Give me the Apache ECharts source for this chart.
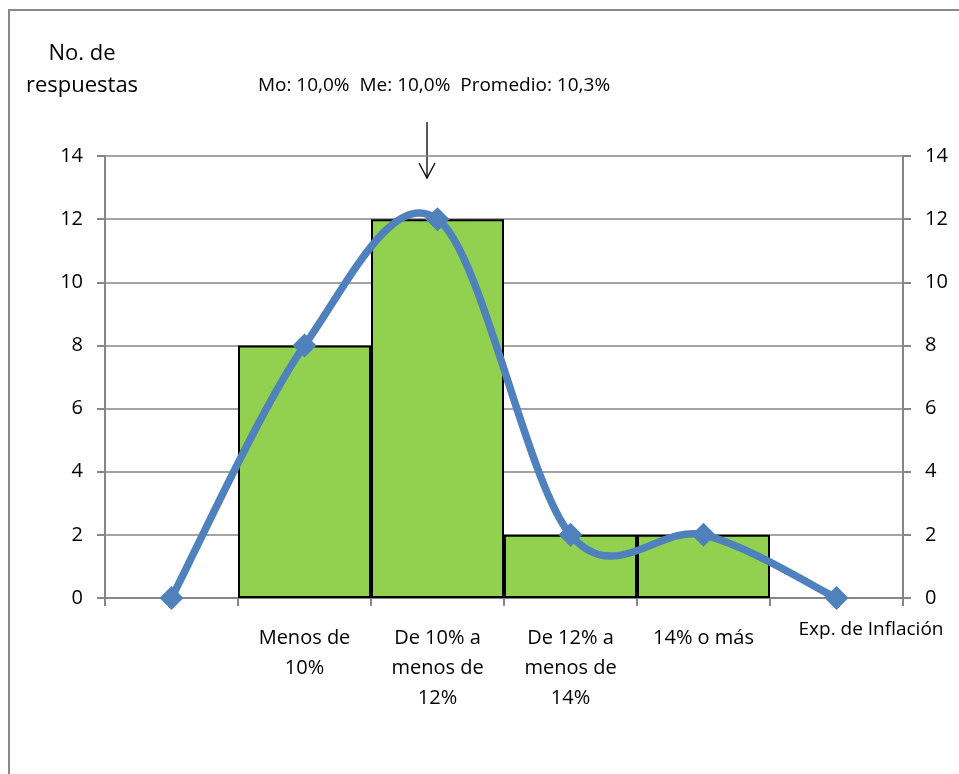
<!DOCTYPE html>
<html>
<head>
<meta charset="utf-8">
<script src="https://cdn.jsdelivr.net/npm/echarts@6/dist/echarts.min.js"></script>
<style>html,body{margin:0;padding:0;background:#fff}#c{width:959px;height:774px}</style>
</head>
<body>
<div id="c"></div>
<script>
const categories = ['', 'Menos de\n10%', 'De 10% a\nmenos de\n12%', 'De 12% a\nmenos de\n14%', '14% o más', ''];
const barValues = ['-', 8, 12, 2, 2, '-'];
const lineValues = [0, 8, 12, 2, 2, 0];
const yTicks = { min: 0, max: 14, interval: 2 };
const yTitle = 'No. de\nrespuestas';
const xTitle = 'Exp. de Inflación';
const annotation = 'Mo: 10,0%  Me: 10,0%  Promedio: 10,3%';

const FONT = '"Open Sans", sans-serif';
const LINE_COLOR = '#4f81bd';
const chart = echarts.init(document.getElementById('c'));
const yAxisBase = {
  type: 'value', min: yTicks.min, max: yTicks.max, interval: yTicks.interval,
  axisLine: { show: true, lineStyle: { color: '#868686', width: 2 } },
  axisTick: { show: true, length: 8, lineStyle: { color: '#868686', width: 2 } },
  axisLabel: { color: '#000', fontSize: 20, fontFamily: FONT, margin: 22 },
};

// Smooth curve through the data points (cardinal spline, like the spreadsheet's smoothed line)
function renderCurve(params, api) {
  if (params.dataIndex !== 0) return null;
  const pts = lineValues.map((v, i) => api.coord([i, v]));
  const n = pts.length;
  let d = 'M' + pts[0][0] + ' ' + pts[0][1];
  for (let i = 0; i < n - 1; i++) {
    const p0 = pts[Math.max(i - 1, 0)], p1 = pts[i], p2 = pts[i + 1], p3 = pts[Math.min(i + 2, n - 1)];
    const c1 = [p1[0] + (p2[0] - p0[0]) / 6, p1[1] + (p2[1] - p0[1]) / 6];
    const c2 = [p2[0] - (p3[0] - p1[0]) / 6, p2[1] - (p3[1] - p1[1]) / 6];
    d += ' C' + c1[0] + ' ' + c1[1] + ' ' + c2[0] + ' ' + c2[1] + ' ' + p2[0] + ' ' + p2[1];
  }
  return {
    type: 'path',
    shape: { pathData: d },
    style: { stroke: LINE_COLOR, lineWidth: 7.5, fill: 'none', lineJoin: 'round', lineCap: 'round' },
  };
}

chart.setOption({
  animation: false,
  grid: { left: 105, right: 56, top: 156, bottom: 176 },
  xAxis: {
    type: 'category', data: categories, boundaryGap: true,
    name: xTitle, nameLocation: 'end', nameGap: -32,
    nameTextStyle: { color: '#000', fontSize: 19, fontFamily: FONT, align: 'center', verticalAlign: 'top', padding: [22, 0, 0, 0] },
    axisLine: { lineStyle: { color: '#868686', width: 2 } },
    axisTick: { show: true, length: 8, alignWithLabel: false, lineStyle: { color: '#868686', width: 2 } },
    axisLabel: { interval: 0, color: '#000', fontSize: 20, fontFamily: FONT, lineHeight: 30, margin: 25 },
  },
  yAxis: [
    Object.assign({}, yAxisBase, { position: 'left', splitLine: { show: true, lineStyle: { color: '#868686', width: 1.5 } } }),
    Object.assign({}, yAxisBase, { position: 'right', splitLine: { show: false } }),
  ],
  series: [
    {
      type: 'bar', data: barValues, barWidth: '100%', barGap: '-100%', barCategoryGap: 0,
      itemStyle: { color: '#92d050', borderColor: '#000', borderWidth: 2 },
      z: 2,
    },
    {
      type: 'custom', data: lineValues.map((v, i) => [i, v]), encode: { x: 0, y: 1 },
      renderItem: renderCurve, z: 3, silent: true,
    },
    {
      type: 'scatter', data: lineValues,
      symbol: 'diamond', symbolSize: 24,
      itemStyle: { color: LINE_COLOR, opacity: 1 },
      z: 4,
    },
  ],
  graphic: [
    { type: 'rect', shape: { x: 9, y: 10, width: 1000, height: 1000 }, style: { fill: 'none', stroke: '#898989', lineWidth: 2 }, z: -1 },
    { type: 'text', x: 82, y: 38, style: { text: yTitle, fill: '#000', font: '22px ' + FONT, align: 'center', lineHeight: 32 } },
    { type: 'text', x: 434, y: 86, style: { text: annotation, fill: '#000', font: '19px ' + FONT, align: 'center', verticalAlign: 'middle' } },
    { type: 'line', shape: { x1: 427, y1: 122, x2: 427, y2: 178 }, style: { stroke: '#000', lineWidth: 1.3 } },
    { type: 'polyline', shape: { points: [[419, 163], [427, 178], [435, 163]] }, style: { stroke: '#000', lineWidth: 1.3, fill: 'none' } },
  ],
});
</script>
</body>
</html>
